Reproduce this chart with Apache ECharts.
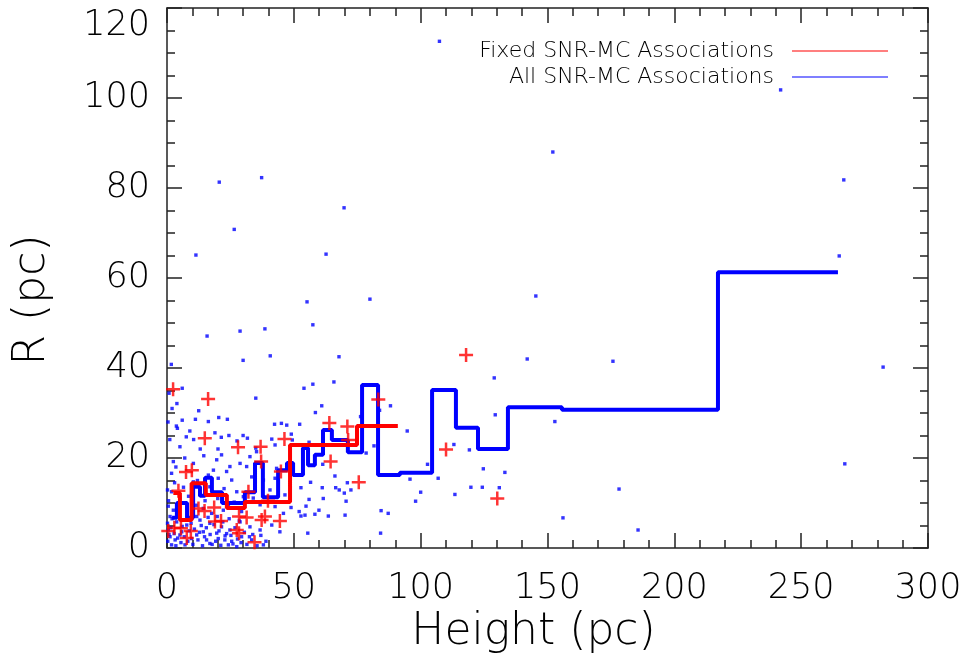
<!DOCTYPE html>
<html>
<head>
<meta charset="utf-8">
<script src="https://cdn.jsdelivr.net/npm/echarts@6/dist/echarts.min.js"></script>
<style>html,body{margin:0;padding:0;background:#fff}#c{width:967px;height:671px}</style>
</head>
<body>
<div id="c"></div>
<script>
// ---- data ----
const xTicks = [0, 50, 100, 150, 200, 250, 300];
const yTicks = [0, 20, 40, 60, 80, 100, 120];

// step line: "All SNR-MC Associations" (bin edges and bin values)
const blueEdges = [2.0, 3.9, 7.9, 10.3, 13.0, 15.0, 17.7, 21.7, 30.7, 34.7, 37.8, 43.8, 47.3, 49.7, 53.6, 55.6, 58.3, 61.5, 65.0, 71.3, 76.9, 83.2, 91.8, 104.5, 113.9, 122.6, 134.4, 155.7, 217.2, 264.5];
const blueValues = [6.7, 10.0, 6.7, 13.6, 11.6, 15.6, 12.4, 10.0, 12.4, 18.9, 11.3, 17.3, 18.9, 16.2, 22.2, 18.4, 20.7, 26.2, 24.0, 21.3, 36.2, 16.2, 16.7, 35.1, 26.7, 22.0, 31.3, 30.7, 61.3];

// step line: "Fixed SNR-MC Associations"
const redEdges = [2.5, 5.1, 9.7, 15.3, 23.6, 30.7, 48.5, 74.9, 91.0];
const redValues = [12.2, 6.2, 14.4, 11.8, 8.9, 10.2, 22.9, 27.1];

// fixed associations (red crosses)
const fixedPoints = [
 [2.4,35.3],[16.2,33.1],[14.9,24.4],[28.0,22.4],[36.9,22.5],[46.3,24.2],[37.1,19.2],[44.9,17.0],
 [32.1,12.5],[39.8,10.5],[28.4,7.0],[31.4,6.8],[37.3,6.2],[38.6,7.0],[44.5,6.0],[28.4,3.3],[34.5,1.3],
 [83.3,33.0],[64.0,27.8],[71.1,27.0],[71.4,24.0],[64.5,19.2],[75.6,14.6],[110.0,21.9],[130.2,11.0],
 [117.9,42.9],[7.5,16.9],[9.8,17.3],[4.5,12.7],[18.6,9.0],[14.8,8.2],[12.4,8.8],[18.9,5.9],[21.3,6.0],
 [2.9,4.5],[5.5,4.4],[9.4,3.8],[27.5,4.0],[7.8,2.2],[0.5,3.8]
];

// all associations (blue dots)
const allPoints = [
 [107.4,112.6],[241.9,101.8],[152.1,88.0],[20.6,81.3],[37.3,82.3],[266.8,81.8],[265.0,64.9],[26.5,70.8],
 [69.8,75.6],[11.4,65.1],[62.7,65.3],[55.2,54.7],[80.0,55.3],[145.4,56.0],[15.8,47.1],[28.8,48.2],
 [38.6,48.7],[57.5,49.6],[175.8,41.5],[282.3,40.2],[267.2,18.7],[178.2,13.1],[156.1,6.7],[185.7,4.0],
 [142.0,42.0],[129.0,37.8],[129.4,29.6],[152.9,28.1],
 [1.7,40.8],[30.0,41.7],[40.7,42.7],[67.8,42.5],[65.8,36.9],[57.5,36.4],[54.0,35.5],[35.0,33.3],
 [61.0,31.6],[58.5,30.1],[88.1,31.6],[83.8,30.6],[76.3,29.2],[94.7,26.0],[81.6,22.7],[78.5,21.1],
 [61.4,18.6],[102.7,18.6],[66.2,16.0],[95.8,15.3],
 [6.0,35.5],[0.8,34.4],[3.9,32.1],[6.0,28.4],[11.2,28.6],[20.4,29.0],[23.8,28.6],[3.7,27.1],[4.1,26.6],
 [42.4,27.5],[45.1,27.7],[52.3,27.5],[7.6,24.7],[10.5,24.1],[21.4,24.6],[24.4,25.0],[30.0,25.0],[1.1,24.1],
 [49.0,25.3],[49.4,24.0],[20.1,22.0],[27.6,23.8],[35.0,22.2],[13.1,22.0],
 [56.0,23.5],[56.6,14.6],[71.1,14.5],[52.8,13.4],[61.2,13.4],[66.5,13.4],[67.9,12.9],[69.9,12.2],[72.5,12.9],
 [98.0,10.4],[56.0,10.8],[61.6,11.0],[70.6,10.4],[54.8,9.3],[59.9,8.4],[52.1,8.1],[52.8,7.1],[54.4,7.3],
 [58.3,7.5],[63.6,7.1],[70.2,7.3],[84.4,8.3],[87.2,7.7],[48.9,9.0],[55.5,3.3],[84.2,3.3],
 [113.1,23.0],[119.2,21.8],[124.7,17.6],[133.2,16.8],[106.9,15.5],[119.8,13.5],[124.3,13.5],[131.0,13.4],
 [100.0,12.4],[113.5,11.9],
 [16.3,28.1],[47.2,27.3],[18.9,25.6],[31.7,24.4],[41.3,24.2],[5.1,22.5],[42.6,22.9],
 [21.5,20.7],[35.3,21.4],[32.7,20.3],
 [2.5,19.2],[10.4,18.8],[19.6,19.6],[24.8,18.1],[28.8,18.8],[31.4,18.1],[18.3,17.3],[43.2,17.7],[23.5,17.0],
 [1.8,16.6],[10.4,14.7],[20.2,15.5],[25.5,15.1],[33.4,15.8],[38.0,15.1],[42.6,15.5],[16.3,16.2],
 [0.2,12.9],[1.8,12.5],[13.0,11.8],[16.9,13.6],[27.5,12.5],[30.1,11.4],[34.0,11.1],[40.6,12.9],[46.5,11.8],[5.1,11.1],
 [0.5,9.3],[2.5,8.4],[7.8,8.8],[14.3,8.8],[17.6,7.7],[22.2,8.4],[24.2,9.6],[29.4,8.1],[36.7,9.6],[42.6,9.2],[45.9,7.7],[1.2,7.0],[11.7,7.0],
 [0.2,5.5],[3.8,5.8],[7.8,5.1],[13.0,6.2],[16.9,5.5],[21.5,4.7],[24.8,4.0],[28.8,5.8],[32.7,4.7],[36.7,4.0],[41.3,5.1],[44.5,3.6],[0.5,4.0],[5.8,3.6],[14.3,3.6],[19.6,3.3],
 [1.2,2.5],[3.2,1.8],[5.1,2.9],[9.7,2.1],[11.7,2.9],[15.6,1.8],[20.2,2.1],[22.9,2.7],[25.5,1.5],[29.4,2.5],[33.4,1.8],[1.8,0.7],[7.1,0.7],[16.9,1.0],[24.2,0.7],[27.5,0.3],[38.0,0.7],
 [0.3,1.5],[0.8,3.0],[1.5,4.5],[2.0,6.5],[2.8,3.2],[3.5,0.5],[4.2,2.2],[4.5,7.5],[5.5,1.2],[6.0,4.8],[6.8,2.5],[7.5,6.2],[8.2,1.5],[8.8,3.8],[9.5,5.5],[10.2,0.8],[10.8,4.2],[11.5,9.5],
 [12.2,1.8],[12.8,3.5],[13.5,5.0],[14.0,0.5],[14.8,2.5],[15.5,4.5],[16.2,6.8],[17.0,3.0],[17.8,0.8],[18.5,5.2],[19.2,1.5],[19.8,7.0],[20.5,3.8],[21.2,0.6],[22.0,5.8],[22.8,1.8],
 [23.5,3.2],[24.5,6.5],[25.2,2.8],[26.0,0.9],[26.8,4.5],[27.8,2.0],[28.5,6.0],[29.2,1.2],[30.5,3.5],[31.5,0.8],[32.5,2.5],[33.8,3.0],[35.5,0.5],[37.0,2.8],[39.0,1.5],
 [0.6,10.5],[3.0,14.5],[6.5,13.5],[8.5,11.5],[12.0,15.0],[15.0,10.5],[20.0,11.0],[22.5,13.2],[26.5,10.2],[3.5,18.0],[7.0,20.0],[14.5,20.5],[9.0,26.0],[12.5,30.5],[0.4,28.0],[2.0,31.0]
];

const seriesNames = ['Fixed SNR-MC Associations', 'All SNR-MC Associations'];

// ---- chart ----
const FONT = 'DejaVu Sans';
const chart = echarts.init(document.getElementById('c'), null, {renderer: 'canvas'});

function stepData(edges, values) {
  const d = values.map((v, i) => [edges[i], v]);
  d.push([edges[edges.length - 1], values[values.length - 1]]);
  return d;
}

const axisCommon = {
  type: 'value',
  axisLine: {show: true, onZero: false, lineStyle: {color: '#222', width: 1.5}},
  axisTick: {show: true, inside: true, length: 15, lineStyle: {color: '#222', width: 1.5}},
  splitLine: {show: false}
};

const option = {
  animation: false,
  backgroundColor: '#fff',
  grid: {left: 167, right: 39, top: 8, bottom: 123, containLabel: false, outerBoundsMode: 'none'},
  xAxis: [
    Object.assign({}, axisCommon, {
      min: xTicks[0], max: xTicks[xTicks.length - 1], interval: 50, position: 'bottom',
      minorTick: {show: true, splitNumber: 5, length: 8, lineStyle: {color: '#222', width: 1.5}},
      axisLabel: {fontSize: 35, color: '#000', margin: 23, fontFamily: FONT, fontWeight: 200},
      name: 'Height (pc)', nameLocation: 'middle', nameGap: 44,
      nameTextStyle: {fontSize: 44, color: '#000', fontFamily: FONT, fontWeight: 200, padding: [0, 28, 0, 0]}
    }),
    Object.assign({}, axisCommon, {
      min: xTicks[0], max: xTicks[xTicks.length - 1], interval: 50, position: 'top',
      minorTick: {show: true, splitNumber: 5, length: 8, lineStyle: {color: '#222', width: 1.5}},
      axisLabel: {show: false}
    })
  ],
  yAxis: [
    Object.assign({}, axisCommon, {
      min: yTicks[0], max: yTicks[yTicks.length - 1], interval: 20, position: 'left',
      minorTick: {show: true, splitNumber: 4, length: 8, lineStyle: {color: '#222', width: 1.5}},
      axisLabel: {fontSize: 35, color: '#000', margin: 17, fontFamily: FONT, fontWeight: 200,
                  verticalAlignMaxLabel: 'top'},
      name: 'R (pc)', nameLocation: 'middle', nameGap: 112,
      nameTextStyle: {fontSize: 44, color: '#000', fontFamily: FONT, fontWeight: 200, padding: [0, 44, 0, 0]}
    }),
    Object.assign({}, axisCommon, {
      min: yTicks[0], max: yTicks[yTicks.length - 1], interval: 20, position: 'right',
      minorTick: {show: true, splitNumber: 4, length: 8, lineStyle: {color: '#222', width: 1.5}},
      axisLabel: {show: false}
    })
  ],
  legend: [
    {
      data: [{name: seriesNames[0], icon: 'rect'}],
      right: 79, top: 40, padding: 0, align: 'right', itemWidth: 96, itemHeight: 1.2,
      selectedMode: false,
      textStyle: {fontSize: 22, color: '#000', fontFamily: FONT, fontWeight: 200, padding: [0, 13, 0, 0]}
    },
    {
      data: [{name: seriesNames[1], icon: 'rect'}],
      right: 79, top: 66, padding: 0, align: 'right', itemWidth: 96, itemHeight: 1.2,
      selectedMode: false,
      textStyle: {fontSize: 22, color: '#000', fontFamily: FONT, fontWeight: 200, padding: [0, 13, 0, 0]}
    }
  ],
  series: [
    {
      type: 'scatter', name: 'dots', data: allPoints, symbol: 'rect', symbolSize: 3.4,
      itemStyle: {color: '#0000ff'}, silent: true, z: 1
    },
    {
      type: 'line', name: seriesNames[1], data: stepData(blueEdges, blueValues), step: 'end',
      symbol: 'none', lineStyle: {color: '#0000ff', width: 4}, itemStyle: {color: '#0000ff'}, z: 2
    },
    {
      type: 'line', name: seriesNames[0], data: stepData(redEdges, redValues), step: 'end',
      symbol: 'none', lineStyle: {color: '#ff0000', width: 4}, itemStyle: {color: '#ff0000'}, z: 3
    },
    {
      type: 'scatter', name: 'crosses', data: fixedPoints,
      symbol: 'path://M-1.25,-7 L1.25,-7 L1.25,-1.25 L7,-1.25 L7,1.25 L1.25,1.25 L1.25,7 L-1.25,7 L-1.25,1.25 L-7,1.25 L-7,-1.25 L-1.25,-1.25 Z',
      symbolSize: 14, itemStyle: {color: '#ff0000'}, silent: true, z: 4
    }
  ]
};
chart.setOption(option);
</script>
</body>
</html>
